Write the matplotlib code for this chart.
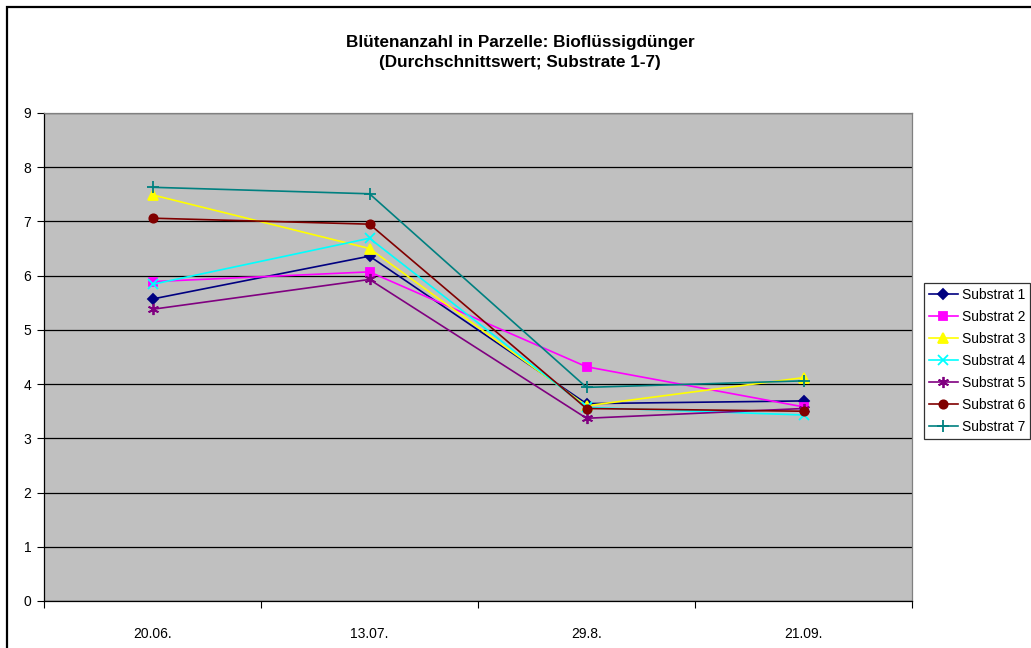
import matplotlib.pyplot as plt
from matplotlib.patches import Rectangle
from matplotlib.ticker import FixedLocator

plt.rcParams.update({"font.family": ["Liberation Sans", "DejaVu Sans"], "font.size": 10})

dates = ["20.06.", "13.07.", "29.8.", "21.09."]
substrat_1 = [5.57, 6.36, 3.64, 3.69]
substrat_2 = [5.89, 6.07, 4.32, 3.58]
substrat_3 = [7.49, 6.50, 3.60, 4.12]
substrat_4 = [5.84, 6.69, 3.57, 3.43]
substrat_5 = [5.38, 5.93, 3.37, 3.55]
substrat_6 = [7.06, 6.95, 3.55, 3.50]
substrat_7 = [7.63, 7.51, 3.94, 4.06]

series = [
    ("Substrat 1", substrat_1, "#000080", "D", 5),
    ("Substrat 2", substrat_2, "#FF00FF", "s", 6),
    ("Substrat 3", substrat_3, "#FFFF00", "^", 7),
    ("Substrat 4", substrat_4, "#00FFFF", "x", 7),
    ("Substrat 5", substrat_5, "#800080", (6, 2, 0), 8),
    ("Substrat 6", substrat_6, "#800000", "o", 6),
    ("Substrat 7", substrat_7, "#008080", "+", 8),
]

W, H = 1031, 648
fig = plt.figure(figsize=(W / 100, H / 100), dpi=100)

# outer chart frame
fig.patches.append(Rectangle((7 / W, -0.1), 1.2, 1 - 7 / H + 0.1, transform=fig.transFigure,
                             fill=False, edgecolor="black", linewidth=1.6))

ax = fig.add_axes([44 / W, 1 - 601 / H, (912 - 44) / W, (601 - 113) / H])
ax.set_facecolor("#C0C0C0")

x = list(range(len(dates)))
for name, vals, color, marker, ms in series:
    ax.plot(x, vals, color=color, marker=marker, markersize=ms, linewidth=1.2,
            markeredgecolor=color, markeredgewidth=1.3, label=name)

ax.set_xlim(-0.5, len(dates) - 0.5)
ax.set_ylim(0, 9)
ax.set_yticks(range(0, 10))
ax.yaxis.grid(True, color="black", linewidth=0.9)
ax.set_axisbelow(True)

ax.set_xticks(x)
ax.set_xticklabels(dates)
ax.tick_params(axis="x", which="major", length=0, pad=19)
ax.xaxis.set_minor_locator(FixedLocator([i - 0.5 for i in range(len(dates) + 1)]))
ax.tick_params(axis="x", which="minor", length=5, width=0.8, direction="out")
ax.tick_params(axis="y", length=5, width=0.8, direction="out", pad=4)

for side in ["top", "right"]:
    ax.spines[side].set_color("#808080")
    ax.spines[side].set_linewidth(0.9)
for side in ["left", "bottom"]:
    ax.spines[side].set_color("black")
    ax.spines[side].set_linewidth(0.9)

fig.text(520 / W, 1 - 43 / H, "Blütenanzahl in Parzelle: Bioflüssigdünger",
         ha="center", va="center", fontsize=12.3, fontweight="bold")
fig.text(520 / W, 1 - 62 / H, "(Durchschnittswert; Substrate 1-7)",
         ha="center", va="center", fontsize=12.3, fontweight="bold")

leg = fig.legend(loc="upper left", bbox_to_anchor=(924 / W, 1 - 283 / H),
                 fontsize=10, handlelength=2.1, handletextpad=0.25, labelspacing=0.58,
                 borderpad=0.35, borderaxespad=0, fancybox=False, frameon=True)
leg.get_frame().set_edgecolor("black")
leg.get_frame().set_linewidth(0.9)

fig.savefig("out.png", dpi=100)
